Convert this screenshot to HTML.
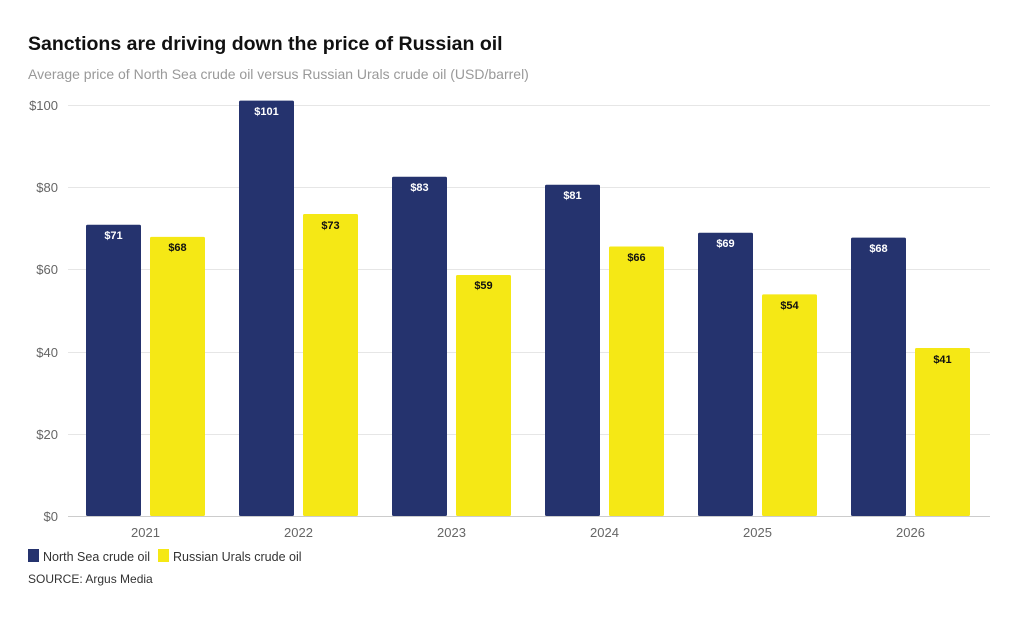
<!DOCTYPE html>
<html><head><meta charset="utf-8"><style>
body{margin:0;background:#fff;width:1020px;height:614px;overflow:hidden;font-family:"Liberation Sans",sans-serif}
</style></head><body>
<svg width="1020" height="614" xmlns="http://www.w3.org/2000/svg" font-family="Liberation Sans, sans-serif">
<text x="28" y="50" font-size="19.5" font-weight="bold" fill="#111">Sanctions are driving down the price of Russian oil</text>
<text x="28" y="79" font-size="14" fill="#999">Average price of North Sea crude oil versus Russian Urals crude oil (USD/barrel)</text>
<g stroke="#e6e6e6" stroke-width="1">
<line x1="68" x2="990" y1="105.5" y2="105.5"/>
<line x1="68" x2="990" y1="187.5" y2="187.5"/>
<line x1="68" x2="990" y1="269.5" y2="269.5"/>
<line x1="68" x2="990" y1="352.5" y2="352.5"/>
<line x1="68" x2="990" y1="434.5" y2="434.5"/>
</g>
<line x1="68" x2="990" y1="516.5" y2="516.5" stroke="#ccc"/>
<g font-size="13" fill="#666" text-anchor="end">
<text x="58" y="110">$100</text><text x="58" y="192">$80</text><text x="58" y="274">$60</text>
<text x="58" y="357">$40</text><text x="58" y="439">$20</text><text x="58" y="521">$0</text>
</g>
<g id="bars" font-size="11" font-weight="bold" text-anchor="middle">
<rect x="86" y="224.7" width="55" height="291.3" rx="1.5" fill="#25336e"/><text x="113.5" y="239" fill="#fff">$71</text>
<rect x="150" y="236.9" width="55" height="279.1" rx="1.5" fill="#f5e815"/><text x="177.5" y="251" fill="#111">$68</text>
<rect x="239" y="100.6" width="55" height="415.4" rx="1.5" fill="#25336e"/><text x="266.5" y="115" fill="#fff">$101</text>
<rect x="303" y="214" width="55" height="302" rx="1.5" fill="#f5e815"/><text x="330.5" y="229" fill="#111">$73</text>
<rect x="392" y="176.7" width="55" height="339.3" rx="1.5" fill="#25336e"/><text x="419.5" y="191" fill="#fff">$83</text>
<rect x="456" y="275" width="55" height="241" rx="1.5" fill="#f5e815"/><text x="483.5" y="289" fill="#111">$59</text>
<rect x="545" y="184.8" width="55" height="331.2" rx="1.5" fill="#25336e"/><text x="572.5" y="199" fill="#fff">$81</text>
<rect x="609" y="246.5" width="55" height="269.5" rx="1.5" fill="#f5e815"/><text x="636.5" y="261" fill="#111">$66</text>
<rect x="698" y="232.8" width="55" height="283.2" rx="1.5" fill="#25336e"/><text x="725.5" y="247" fill="#fff">$69</text>
<rect x="762" y="294.4" width="55" height="221.6" rx="1.5" fill="#f5e815"/><text x="789.5" y="309" fill="#111">$54</text>
<rect x="851" y="237.6" width="55" height="278.4" rx="1.5" fill="#25336e"/><text x="878.5" y="252" fill="#fff">$68</text>
<rect x="915" y="348" width="55" height="168" rx="1.5" fill="#f5e815"/><text x="942.5" y="363" fill="#111">$41</text>
</g>
<g font-size="13" fill="#666" text-anchor="middle">
<text x="145.5" y="537">2021</text><text x="298.5" y="537">2022</text><text x="451.5" y="537">2023</text>
<text x="604.5" y="537">2024</text><text x="757.5" y="537">2025</text><text x="910.5" y="537">2026</text>
</g>
<rect x="28" y="549" width="11" height="13" fill="#25336e"/>
<text x="43" y="561" font-size="12.5" fill="#333">North Sea crude oil</text>
<rect x="158" y="549" width="11" height="13" fill="#f5e815"/>
<text x="173" y="561" font-size="12.5" fill="#333">Russian Urals crude oil</text>
<text x="28" y="583" font-size="12" fill="#333">SOURCE: Argus Media</text>
</svg>
</body></html>
